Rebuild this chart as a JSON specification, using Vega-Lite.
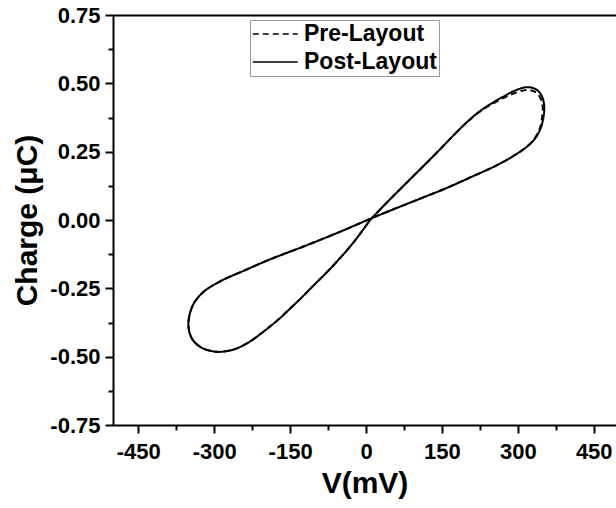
{
  "$schema": "https://vega.github.io/schema/vega-lite/v6.json",
  "width": 503,
  "height": 410,
  "autosize": {"type": "none"},
  "padding": {"left": 113, "top": 15, "right": 0, "bottom": 83},
  "background": "white",
  "config": {
    "view": {"stroke": null},
    "axis": {
      "domainColor": "black", "domainWidth": 2, "tickColor": "black", "tickWidth": 2,
      "labelFont": "Liberation Sans", "labelFontWeight": "bold", "labelFontSize": 22, "labelColor": "black",
      "titleFont": "Liberation Sans", "titleFontWeight": "bold", "titleFontSize": 30, "titleColor": "black",
      "grid": false, "labelOverlap": false
    },
    "legend": {
      "labelFont": "Liberation Sans", "labelFontWeight": "bold", "labelFontSize": 23, "labelColor": "black"
    }
  },
  "data": {"values": [
    {"s":"Pre-Layout","i":0,"V":8,"Q":0.0},
    {"s":"Pre-Layout","i":1,"V":46,"Q":0.073},
    {"s":"Pre-Layout","i":2,"V":92,"Q":0.158},
    {"s":"Pre-Layout","i":3,"V":138,"Q":0.243},
    {"s":"Pre-Layout","i":4,"V":181,"Q":0.325},
    {"s":"Pre-Layout","i":5,"V":204,"Q":0.365},
    {"s":"Pre-Layout","i":6,"V":224,"Q":0.395},
    {"s":"Pre-Layout","i":7,"V":244,"Q":0.419},
    {"s":"Pre-Layout","i":8,"V":270,"Q":0.445},
    {"s":"Pre-Layout","i":9,"V":295,"Q":0.465},
    {"s":"Pre-Layout","i":10,"V":318,"Q":0.476},
    {"s":"Pre-Layout","i":11,"V":334,"Q":0.469},
    {"s":"Pre-Layout","i":12,"V":344,"Q":0.448},
    {"s":"Pre-Layout","i":13,"V":349,"Q":0.415},
    {"s":"Pre-Layout","i":14,"V":348,"Q":0.375},
    {"s":"Pre-Layout","i":15,"V":343,"Q":0.333},
    {"s":"Pre-Layout","i":16,"V":331,"Q":0.293},
    {"s":"Pre-Layout","i":17,"V":315,"Q":0.264},
    {"s":"Pre-Layout","i":18,"V":290,"Q":0.233},
    {"s":"Pre-Layout","i":19,"V":257,"Q":0.199},
    {"s":"Pre-Layout","i":20,"V":204,"Q":0.154},
    {"s":"Pre-Layout","i":21,"V":158,"Q":0.116},
    {"s":"Pre-Layout","i":22,"V":92,"Q":0.067},
    {"s":"Pre-Layout","i":23,"V":26,"Q":0.018},
    {"s":"Pre-Layout","i":24,"V":-59,"Q":-0.049},
    {"s":"Pre-Layout","i":25,"V":-125,"Q":-0.098},
    {"s":"Pre-Layout","i":26,"V":-191,"Q":-0.145},
    {"s":"Pre-Layout","i":27,"V":-237,"Q":-0.182},
    {"s":"Pre-Layout","i":28,"V":-290,"Q":-0.226},
    {"s":"Pre-Layout","i":29,"V":-323,"Q":-0.266},
    {"s":"Pre-Layout","i":30,"V":-343,"Q":-0.315},
    {"s":"Pre-Layout","i":31,"V":-351,"Q":-0.385},
    {"s":"Pre-Layout","i":32,"V":-343,"Q":-0.437},
    {"s":"Pre-Layout","i":33,"V":-323,"Q":-0.469},
    {"s":"Pre-Layout","i":34,"V":-296,"Q":-0.482},
    {"s":"Pre-Layout","i":35,"V":-280,"Q":-0.481},
    {"s":"Pre-Layout","i":36,"V":-262,"Q":-0.474},
    {"s":"Pre-Layout","i":37,"V":-245,"Q":-0.461},
    {"s":"Pre-Layout","i":38,"V":-228,"Q":-0.443},
    {"s":"Pre-Layout","i":39,"V":-210,"Q":-0.419},
    {"s":"Pre-Layout","i":40,"V":-190,"Q":-0.39},
    {"s":"Pre-Layout","i":41,"V":-170,"Q":-0.359},
    {"s":"Pre-Layout","i":42,"V":-150,"Q":-0.324},
    {"s":"Pre-Layout","i":43,"V":-128,"Q":-0.285},
    {"s":"Pre-Layout","i":44,"V":-105,"Q":-0.242},
    {"s":"Pre-Layout","i":45,"V":-80,"Q":-0.196},
    {"s":"Pre-Layout","i":46,"V":-59,"Q":-0.155},
    {"s":"Pre-Layout","i":47,"V":-26,"Q":-0.085},
    {"s":"Pre-Layout","i":48,"V":8,"Q":0.0},
    {"s":"Post-Layout","i":0,"V":8,"Q":0.0},
    {"s":"Post-Layout","i":1,"V":46,"Q":0.073},
    {"s":"Post-Layout","i":2,"V":92,"Q":0.158},
    {"s":"Post-Layout","i":3,"V":138,"Q":0.243},
    {"s":"Post-Layout","i":4,"V":181,"Q":0.325},
    {"s":"Post-Layout","i":5,"V":204,"Q":0.366},
    {"s":"Post-Layout","i":6,"V":224,"Q":0.397},
    {"s":"Post-Layout","i":7,"V":244,"Q":0.422},
    {"s":"Post-Layout","i":8,"V":270,"Q":0.450},
    {"s":"Post-Layout","i":9,"V":295,"Q":0.474},
    {"s":"Post-Layout","i":10,"V":318,"Q":0.486},
    {"s":"Post-Layout","i":11,"V":336,"Q":0.478},
    {"s":"Post-Layout","i":12,"V":347,"Q":0.455},
    {"s":"Post-Layout","i":13,"V":352,"Q":0.42},
    {"s":"Post-Layout","i":14,"V":351,"Q":0.38},
    {"s":"Post-Layout","i":15,"V":345,"Q":0.335},
    {"s":"Post-Layout","i":16,"V":332,"Q":0.293},
    {"s":"Post-Layout","i":17,"V":315,"Q":0.264},
    {"s":"Post-Layout","i":18,"V":290,"Q":0.233},
    {"s":"Post-Layout","i":19,"V":257,"Q":0.199},
    {"s":"Post-Layout","i":20,"V":204,"Q":0.154},
    {"s":"Post-Layout","i":21,"V":158,"Q":0.116},
    {"s":"Post-Layout","i":22,"V":92,"Q":0.067},
    {"s":"Post-Layout","i":23,"V":26,"Q":0.018},
    {"s":"Post-Layout","i":24,"V":-59,"Q":-0.049},
    {"s":"Post-Layout","i":25,"V":-125,"Q":-0.098},
    {"s":"Post-Layout","i":26,"V":-191,"Q":-0.145},
    {"s":"Post-Layout","i":27,"V":-237,"Q":-0.182},
    {"s":"Post-Layout","i":28,"V":-290,"Q":-0.226},
    {"s":"Post-Layout","i":29,"V":-323,"Q":-0.266},
    {"s":"Post-Layout","i":30,"V":-343,"Q":-0.315},
    {"s":"Post-Layout","i":31,"V":-351,"Q":-0.385},
    {"s":"Post-Layout","i":32,"V":-343,"Q":-0.437},
    {"s":"Post-Layout","i":33,"V":-323,"Q":-0.469},
    {"s":"Post-Layout","i":34,"V":-296,"Q":-0.482},
    {"s":"Post-Layout","i":35,"V":-280,"Q":-0.481},
    {"s":"Post-Layout","i":36,"V":-262,"Q":-0.474},
    {"s":"Post-Layout","i":37,"V":-245,"Q":-0.461},
    {"s":"Post-Layout","i":38,"V":-228,"Q":-0.443},
    {"s":"Post-Layout","i":39,"V":-210,"Q":-0.419},
    {"s":"Post-Layout","i":40,"V":-190,"Q":-0.39},
    {"s":"Post-Layout","i":41,"V":-170,"Q":-0.359},
    {"s":"Post-Layout","i":42,"V":-150,"Q":-0.324},
    {"s":"Post-Layout","i":43,"V":-128,"Q":-0.285},
    {"s":"Post-Layout","i":44,"V":-105,"Q":-0.242},
    {"s":"Post-Layout","i":45,"V":-80,"Q":-0.196},
    {"s":"Post-Layout","i":46,"V":-59,"Q":-0.155},
    {"s":"Post-Layout","i":47,"V":-26,"Q":-0.085},
    {"s":"Post-Layout","i":48,"V":8,"Q":0.0}
  ]},
  "encoding": {
    "y": {
      "field": "Q", "type": "quantitative",
      "scale": {"domain": [-0.75, 0.75], "nice": false, "zero": false},
      "axis": {
        "title": "Charge (μC)",
        "values": [-0.75, -0.625, -0.5, -0.375, -0.25, -0.125, 0, 0.125, 0.25, 0.375, 0.5, 0.625, 0.75],
        "format": ".2f",
        "labelExpr": "datum.value % 0.25 === 0 ? replace(datum.label, '−', '-') : ''",
        "tickSize": {"condition": {"test": "datum.value % 0.25 === 0", "value": 8}, "value": 5},
        "labelPadding": 5,
        "titlePadding": 7
      }
    },
    "order": {"field": "i", "type": "quantitative"},
    "strokeDash": {
      "field": "s", "type": "nominal",
      "scale": {"domain": ["Pre-Layout", "Post-Layout"], "range": [[6, 4], [1, 0]]},
      "legend": {
        "orient": "none", "legendX": 137, "legendY": 5, "title": null,
        "symbolType": "M-1,0H3", "symbolSize": 506, "symbolStrokeWidth": 1.5, "symbolStrokeColor": "black",
        "strokeColor": "#999999", "fillColor": "white", "padding": 2, "rowPadding": 4, "labelOffset": 28
      }
    }
  },
  "layer": [
    {
      "transform": [{"filter": "datum.s === 'Pre-Layout'"}],
      "mark": {"type": "line", "color": "black", "strokeWidth": 2, "interpolate": "catmull-rom"},
      "encoding": {
        "x": {
          "field": "V", "type": "quantitative",
          "scale": {"domain": [-500, 494], "nice": false, "zero": false},
          "axis": {"orient": "top", "labels": false, "ticks": false, "title": null}
        }
      }
    },
    {
      "transform": [{"filter": "datum.s === 'Post-Layout'"}],
      "mark": {"type": "line", "color": "black", "strokeWidth": 2, "interpolate": "catmull-rom"},
      "encoding": {
        "x": {
          "field": "V", "type": "quantitative",
          "scale": {"domain": [-500, 494], "nice": false, "zero": false},
          "axis": {
            "orient": "bottom",
            "title": "V(mV)",
            "values": [-450, -375, -300, -225, -150, -75, 0, 75, 150, 225, 300, 375, 450],
            "format": "d",
            "labelExpr": "datum.value % 150 === 0 ? replace(datum.label, '−', '-') : ''",
            "tickSize": {"condition": {"test": "datum.value % 150 === 0", "value": 8}, "value": 5},
            "labelPadding": 8,
            "titlePadding": 6
          }
        }
      }
    }
  ]
}
